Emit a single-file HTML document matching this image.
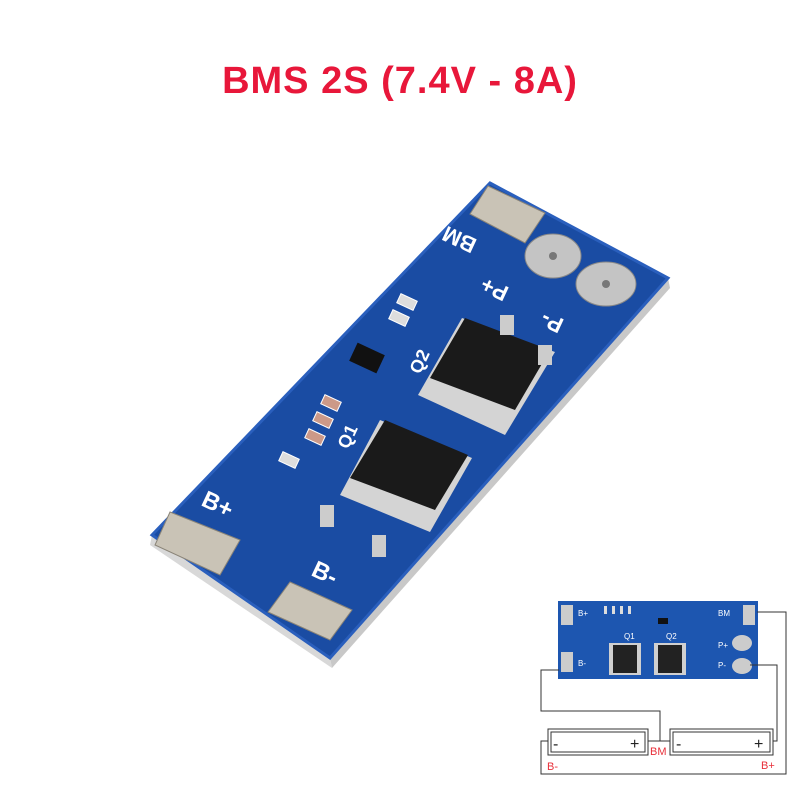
<!DOCTYPE html>
<html><head><style>
body{margin:0;background:#fff;width:800px;height:800px;overflow:hidden;}
</style></head><body>
<svg width="800" height="800" viewBox="0 0 800 800" xmlns="http://www.w3.org/2000/svg" font-family="Liberation Sans, sans-serif">
<rect width="800" height="800" fill="#fff"/>
<text x="400" y="93" text-anchor="middle" font-size="38" font-weight="bold" letter-spacing="1" fill="#e8173a">BMS 2S (7.4V - 8A)</text>

<!-- board thickness -->
<polygon points="152,535 330,658 332,668 150,545" fill="#d8d8d8"/>
<polygon points="330,658 668,278 670,288 332,668" fill="#c8c8c8"/>
<!-- board -->
<polygon points="490,183 668,278 330,658 152,535" fill="#1a4ca3"/>
<polygon points="490,183 668,278 330,658 152,535" fill="none" stroke="#2a5fbd" stroke-width="3"/>
<!-- pads -->
<polygon points="488,186 545,213 525,243 470,214" fill="#c9c3b6" stroke="#8a8478"/>
<polygon points="170,512 240,540 220,575 155,545" fill="#c9c3b6" stroke="#8a8478"/>
<polygon points="290,582 352,610 330,640 268,612" fill="#c9c3b6" stroke="#8a8478"/>
<ellipse cx="553" cy="256" rx="28" ry="22" fill="#c4c4c4" stroke="#888"/>
<circle cx="553" cy="256" r="4" fill="#777"/>
<ellipse cx="606" cy="284" rx="30" ry="22" fill="#c4c4c4" stroke="#888"/>
<circle cx="606" cy="284" r="4" fill="#777"/>
<!-- MOSFETs -->
<polygon points="462,318 555,352 505,435 418,395" fill="#d4d4d4"/>
<polygon points="465,318 550,350 515,410 430,378" fill="#1a1a1a"/>
<polygon points="380,420 472,458 430,532 340,495" fill="#d4d4d4"/>
<polygon points="385,420 468,455 435,510 350,478" fill="#1a1a1a"/>
<rect x="500" y="315" width="14" height="20" fill="#ccc"/>
<rect x="538" y="345" width="14" height="20" fill="#ccc"/>
<rect x="320" y="505" width="14" height="22" fill="#ccc"/>
<rect x="372" y="535" width="14" height="22" fill="#ccc"/>
<!-- IC and small components -->
<rect x="352" y="348" width="30" height="20" fill="#111" transform="rotate(25 367 358)"/>
<rect x="398" y="297" width="18" height="10" fill="#ddd" stroke="#fff" transform="rotate(25 407 302)"/>
<rect x="390" y="313" width="18" height="10" fill="#ddd" stroke="#fff" transform="rotate(25 399 318)"/>
<rect x="322" y="398" width="18" height="10" fill="#c98" stroke="#fff" transform="rotate(25 331 403)"/>
<rect x="314" y="415" width="18" height="10" fill="#c98" stroke="#fff" transform="rotate(25 323 420)"/>
<rect x="306" y="432" width="18" height="10" fill="#c98" stroke="#fff" transform="rotate(25 315 437)"/>
<rect x="280" y="455" width="18" height="10" fill="#ddd" stroke="#fff" transform="rotate(25 289 460)"/>
<!-- labels -->
<g fill="#fff" font-weight="bold">
<text x="200" y="505" font-size="24" transform="rotate(25 200 505)">B+</text>
<text x="310" y="575" font-size="24" transform="rotate(25 310 575)">B-</text>
<text x="478" y="240" font-size="22" transform="rotate(205 478 240)">BM</text>
<text x="510" y="288" font-size="22" transform="rotate(205 510 288)">P+</text>
<text x="565" y="320" font-size="22" transform="rotate(205 565 320)">P-</text>
<text x="420" y="375" font-size="18" transform="rotate(-65 420 375)">Q2</text>
<text x="348" y="450" font-size="18" transform="rotate(-65 348 450)">Q1</text>
</g>

<!-- inset -->
<rect x="558" y="601" width="200" height="78" fill="#1d56b0"/>
<rect x="561" y="605" width="12" height="20" fill="#ccc"/>
<rect x="561" y="652" width="12" height="20" fill="#ccc"/>
<rect x="743" y="605" width="12" height="20" fill="#ccc"/>
<ellipse cx="742" cy="643" rx="10" ry="8" fill="#ccc"/>
<ellipse cx="742" cy="666" rx="10" ry="8" fill="#ccc"/>
<rect x="609" y="643" width="32" height="32" fill="#d0d0d0"/><rect x="613" y="645" width="24" height="28" fill="#222"/>
<rect x="654" y="643" width="32" height="32" fill="#d0d0d0"/><rect x="658" y="645" width="24" height="28" fill="#222"/>
<rect x="604" y="606" width="3" height="8" fill="#ddd"/><rect x="612" y="606" width="3" height="8" fill="#ddd"/><rect x="620" y="606" width="3" height="8" fill="#ddd"/><rect x="628" y="606" width="3" height="8" fill="#ddd"/>
<rect x="658" y="618" width="10" height="6" fill="#111"/>
<g fill="#fff" font-size="8"><text x="624" y="639">Q1</text><text x="666" y="639">Q2</text><text x="578" y="616">B+</text><text x="578" y="666">B-</text><text x="718" y="616">BM</text><text x="718" y="648">P+</text><text x="718" y="668">P-</text></g>
<g fill="none" stroke="#333" stroke-width="1">
<polyline points="559,670 541,670 541,711 660,711 660,741"/>
<polyline points="750,665 777,665 777,741 772,741"/>
<polyline points="757,612 786,612 786,774 541,774 541,741 548,741"/>
</g>
<rect x="548" y="729" width="100" height="26" fill="#fff" stroke="#333"/>
<rect x="551" y="732" width="94" height="20" fill="none" stroke="#333"/>
<rect x="670" y="729" width="103" height="26" fill="#fff" stroke="#333"/>
<rect x="673" y="732" width="97" height="20" fill="none" stroke="#333"/>
<line x1="648" y1="741" x2="670" y2="741" stroke="#333"/>
<g font-size="16" fill="#222"><text x="553" y="749">-</text><text x="630" y="749">+</text><text x="676" y="749">-</text><text x="754" y="749">+</text></g>
<g font-size="11" fill="#e8303a"><text x="547" y="770">B-</text><text x="650" y="755">BM</text><text x="761" y="769">B+</text></g>
</svg>
</body></html>
